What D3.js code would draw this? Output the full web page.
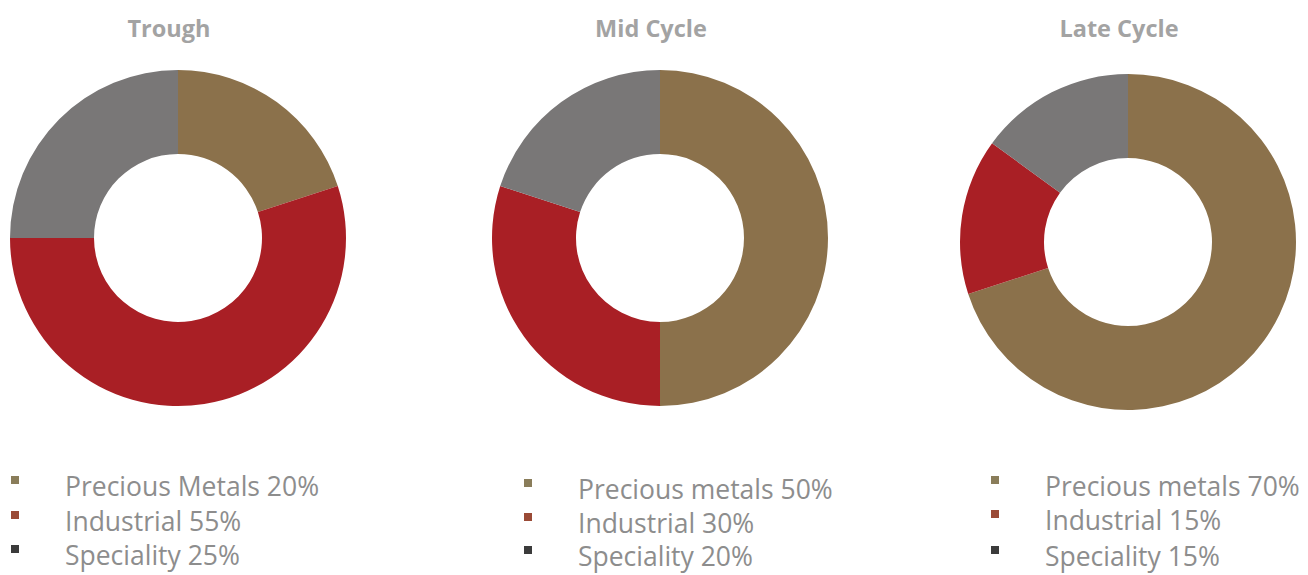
<!DOCTYPE html>
<html>
<head>
<meta charset="utf-8">
<script src="https://cdn.jsdelivr.net/npm/d3@7"></script>
<style>
  body { margin: 0; background: #fff; }
  text { font-family: "Open Sans", sans-serif; }
</style>
</head>
<body>
<div id="chart"></div>
<script>
// ---------------- data ----------------
var panels = ["Trough", "Mid Cycle", "Late Cycle"];
var seriesKeys = ["precious", "industrial", "speciality"];
var precious = [20, 50, 70];
var industrial = [55, 30, 15];
var speciality = [25, 20, 15];
var preciousLabels = ["Precious Metals", "Precious metals", "Precious metals"];
var industrialLabels = ["Industrial", "Industrial", "Industrial"];
var specialityLabels = ["Speciality", "Speciality", "Speciality"];

// ---------------- layout ----------------
var width = 1308, height = 575;
var centersX = [178, 660, 1128];
var centersY = [238, 238, 242];
var outerR = 168, innerR = 84;
var legendX = [15, 528, 995];
var legendY = [[480, 515, 549], [483, 517, 550], [480, 514, 550]];

var sliceColor = d3.scaleOrdinal()
    .domain(seriesKeys)
    .range(["#8b714b", "#a91f25", "#797777"]);
var markerColor = d3.scaleOrdinal()
    .domain(seriesKeys)
    .range(["#8a7d5a", "#9a4a36", "#3b3b3b"]);

var svg = d3.select("#chart")
    .append("svg")
    .attr("width", width)
    .attr("height", height);

var pie = d3.pie()
    .sort(null)
    .value(function(d) { return d.value; });

var arc = d3.arc()
    .innerRadius(innerR)
    .outerRadius(outerR);

panels.forEach(function(name, i) {
  var rows = [
    {key: "precious", value: precious[i], label: preciousLabels[i]},
    {key: "industrial", value: industrial[i], label: industrialLabels[i]},
    {key: "speciality", value: speciality[i], label: specialityLabels[i]}
  ];

  // title
  svg.append("text")
      .attr("x", centersX[i] - 9)
      .attr("y", 37)
      .attr("text-anchor", "middle")
      .style("font-size", "23.5px")
      .style("font-weight", "bold")
      .style("fill", "#a3a3a3")
      .text(name);

  // donut
  var g = svg.append("g")
      .attr("transform", "translate(" + centersX[i] + "," + centersY[i] + ")");

  g.selectAll("path")
      .data(pie(rows))
      .enter()
      .append("path")
      .attr("d", arc)
      .attr("fill", function(d) { return sliceColor(d.data.key); });

  // legend
  var lg = svg.append("g").attr("class", "legend");
  var item = lg.selectAll("g")
      .data(rows)
      .enter()
      .append("g")
      .attr("transform", function(d, j) {
        return "translate(" + legendX[i] + "," + legendY[i][j] + ")";
      });

  item.append("rect")
      .attr("x", -4)
      .attr("y", -4)
      .attr("width", 8)
      .attr("height", 8)
      .attr("fill", function(d) { return markerColor(d.key); });

  item.append("text")
      .attr("x", 50)
      .attr("y", 16)
      .style("font-size", "26.5px")
      .style("fill", "#8d8d8d")
      .text(function(d) { return d.label + " " + d.value + "%"; });
});
</script>
</body>
</html>
